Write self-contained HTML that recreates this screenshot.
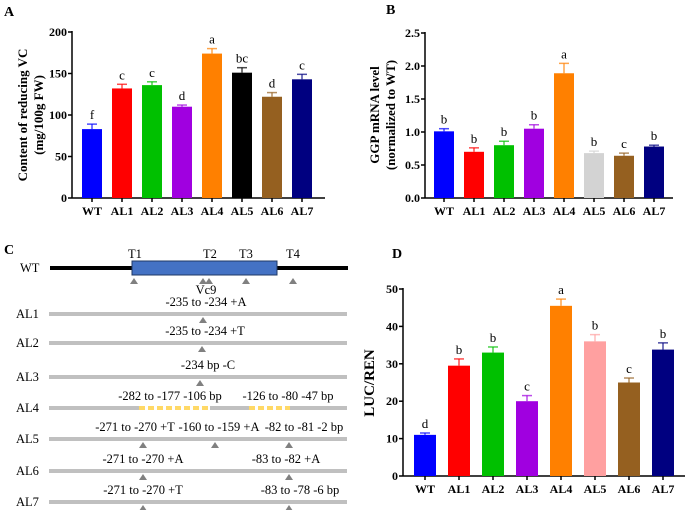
<!DOCTYPE html>
<html><head><meta charset="utf-8"><style>
body{margin:0;background:#fff;}
svg{font-family:"Liberation Serif",serif;}
.b{font-weight:bold}
</style></head><body>
<svg id="s" width="685" height="510" xmlns="http://www.w3.org/2000/svg">
<text x="4" y="16" class="b" font-size="14">A</text>
<text x="386" y="14" class="b" font-size="14">B</text>
<text x="4" y="254" class="b" font-size="14">C</text>
<text x="392" y="258" class="b" font-size="14">D</text>
<text transform="translate(27,115) rotate(-90)" text-anchor="middle" class="b" font-size="13">Content of reducing VC</text>
<text transform="translate(43,115) rotate(-90)" text-anchor="middle" class="b" font-size="13">(mg/100g FW)</text>
<text transform="translate(379,115) rotate(-90)" text-anchor="middle" class="b" font-size="13">GGP mRNA level</text>
<text transform="translate(395,115) rotate(-90)" text-anchor="middle" class="b" font-size="13">(normalized to WT)</text>
<text transform="translate(374,383) rotate(-90)" text-anchor="middle" class="b" font-size="15">LUC/REN</text>
<g id="gc"></g>
</svg>
<script>
const cats=["WT","AL1","AL2","AL3","AL4","AL5","AL6","AL7"];
const colorsA=["#0000ff","#ff0000","#00c000","#a000e0","#ff8000","#000000","#956020","#000080"];
const colorsB=["#0000ff","#ff0000","#00c000","#a000e0","#ff8000","#d3d3d3","#956020","#000080"];
const colorsD=["#0000ff","#ff0000","#00c000","#a000e0","#ff8000","#ffa0a0","#956020","#000080"];
const valsA=[83,132,136,110,174,151,122,143];
const errA=[6,5,4,2,6,6,5,6];
const sigA=["f","c","c","d","a","bc","d","c"];
const ticksA=[0,50,100,150,200];
const valsB=[1.01,0.70,0.80,1.05,1.89,0.68,0.64,0.78];
const errB=[0.04,0.06,0.06,0.06,0.15,0.03,0.04,0.02];
const sigB=["b","b","b","b","a","b","c","b"];
const ticksB=[0,0.5,1.0,1.5,2.0,2.5];
const valsD=[11,29.5,33,20,45.5,36,25,33.8];
const errD=[0.5,1.8,1.5,1.5,1.8,1.8,1.2,1.8];
const sigD=["d","b","b","c","a","b","c","b"];
const ticksD=[0,10,20,30,40,50];
const NS="http://www.w3.org/2000/svg";
const svg=document.getElementById('s');
function mk(t,a,p){const e=document.createElementNS(NS,t);for(const k in a)e.setAttribute(k,a[k]);(p||svg).appendChild(e);return e;}
function chart(o){
  const y=v=>o.y0-(v/o.max)*(o.y0-o.y1);
  const x=i=>o.x0+o.first+i*o.step;
  const g=mk('g',{});
  
  
  const ya=mk('line',{x1:o.ax,y1:o.y1-1,x2:o.ax,y2:o.y0,stroke:'#000','stroke-width':1.5},g);
  
  const xa=mk('line',{x1:o.ax,y1:o.y0,x2:o.xend,y2:o.y0,stroke:'#000','stroke-width':1.5},g);
  
  o.ticks.forEach(t=>{
    mk('line',{x1:o.ax-4,y1:y(t),x2:o.ax,y2:y(t),stroke:'#000','stroke-width':1.5},g);
    const tx=mk('text',{x:o.ax-5,y:y(t)+4,'text-anchor':'end','font-size':12,'font-weight':'bold'},g);
    tx.textContent=o.fmt?o.fmt(t):t;
    
  });
  o.vals.forEach((v,i)=>{
    const cx=x(i),c=o.colors[i];
    mk('line',{x1:cx,y1:o.y0,x2:cx,y2:o.y0+4,stroke:'#000','stroke-width':1.5},g);
    const r=mk('rect',{x:cx-o.bw/2,y:y(v),width:o.bw,height:o.y0-y(v),fill:c},g);
    
    
    const et=y(v+o.err[i]);
    mk('line',{x1:cx,y1:y(v),x2:cx,y2:et,stroke:c,'stroke-width':1.5,opacity:0.7},g);
    mk('line',{x1:cx-5,y1:et,x2:cx+5,y2:et,stroke:c,'stroke-width':1.5,opacity:0.7},g);
    const s=mk('text',{x:cx,y:et-5,'text-anchor':'middle','font-size':13},g);
    s.textContent=o.sig[i];
    
    const l=mk('text',{x:cx,y:o.y0+17,'text-anchor':'middle','font-size':12,'font-weight':'bold'},g);
    l.textContent=cats[i];
    
  });
}
chart({id:'a',vals:valsA,err:errA,sig:sigA,ticks:ticksA,colors:colorsA,max:200,y0:198,y1:32,ax:72,x0:72,first:20,step:30,bw:20,xend:325});
chart({id:'b',vals:valsB,err:errB,sig:sigB,ticks:ticksB,colors:colorsB,max:2.5,y0:198,y1:33,ax:425,x0:425,first:19,step:30,bw:20,xend:673,fmt:t=>t.toFixed(1)});
chart({id:'d',vals:valsD,err:errD,sig:sigD,ticks:ticksD,colors:colorsD,max:50,y0:476,y1:289,ax:403,x0:403,first:22,step:34,bw:22,xend:685});
const gc=document.getElementById('gc');
function T(x,y,s,a,n){const t=mk('text',{x:x,y:y,'font-size':12.5,'text-anchor':a||'middle'},gc);t.textContent=s;return t;}
function tri(x,y){const p=mk('polygon',{points:`${x-4},${y+6} ${x+4},${y+6} ${x},${y}`,fill:'#808080'},gc);}
mk('line',{x1:50,y1:268,x2:348,y2:268,stroke:'#000','stroke-width':4},gc);
const box=mk('rect',{x:132,y:261,width:145,height:14,fill:'#4472c4',stroke:'#1f3864','stroke-width':1},gc);

T(20,272,'WT','start','wt-label');
[[135,'T1'],[210,'T2'],[246,'T3'],[293,'T4']].forEach(a=>T(a[0],258,a[1],'middle','target-label'));
[134,203,209,246,293].forEach(x=>tri(x,278));
T(206,294,'Vc9','middle','vc9-label');
const rows=[["AL1",314,[[206,'-235  to -234 +A']],[203]],["AL2",343,[[205,'-235  to -234 +T']],[202]],["AL3",377,[[208,'-234 bp -C']],[200]],["AL4",408,[[170,'-282 to -177 -106 bp'],[288,'-126 to -80 -47 bp']],[]],["AL5",439,[[135,'-271 to -270 +T'],[219,'-160 to -159 +A'],[304,'-82 to -81 -2 bp']],[143,215,289]],["AL6",471,[[143,'-271 to -270 +A'],[286,'-83 to -82 +A']],[143,289]],["AL7",502,[[143,'-271 to -270 +T'],[300,'-83 to -78 -6 bp']],[143,289]]];
rows.forEach(r=>{
  T(16,r[1]+4,r[0],'start','allele-label');
  const l=mk('line',{x1:49,y1:r[1],x2:347,y2:r[1],stroke:'#c0c0c0','stroke-width':4},gc);
  
  r[2].forEach(t=>T(t[0],r[1]-8,t[1],'middle','mutation-label'));
  r[3].forEach(x=>tri(x,r[1]+3));
  if(r[0]==="AL4"){
    mk('line',{x1:139,y1:r[1],x2:210,y2:r[1],stroke:'#fff','stroke-width':5},gc);
    mk('line',{x1:139,y1:r[1],x2:210,y2:r[1],stroke:'#ffd966','stroke-width':4,'stroke-dasharray':'6 3'},gc);
    mk('line',{x1:249,y1:r[1],x2:290,y2:r[1],stroke:'#fff','stroke-width':5},gc);
    mk('line',{x1:249,y1:r[1],x2:290,y2:r[1],stroke:'#ffd966','stroke-width':4,'stroke-dasharray':'6 3'},gc);
  }
});
</script>
</body></html>
